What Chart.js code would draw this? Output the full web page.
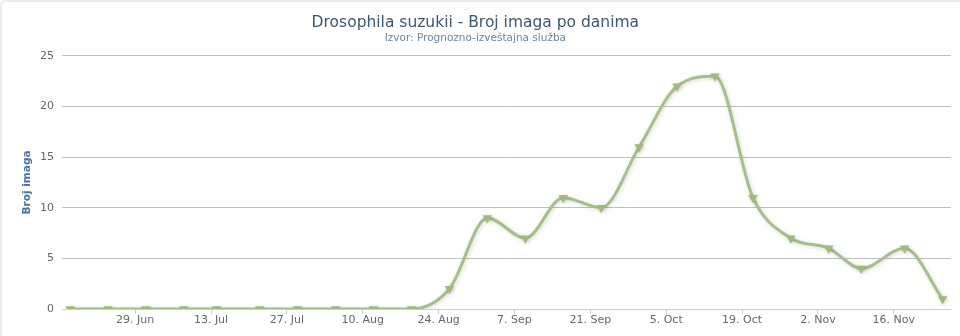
<!DOCTYPE html>
<html>
<head>
<meta charset="utf-8">
<script src="https://cdn.jsdelivr.net/npm/chart.js@4"></script>
<style>
    html, body { margin: 0; padding: 0; background: #fff; }
    #wrap { position: relative; width: 960px; height: 336px; overflow: hidden; }
    #frame {
        position: absolute; left: 0; top: 0; width: 980px; height: 360px;
        border: 2px solid #ececea; border-radius: 6px; box-sizing: border-box;
        pointer-events: none;
    }
</style>
</head>
<body>
<div id="wrap">
    <canvas id="imagoChart"></canvas>
    <div id="frame"></div>
</div>
<script>
// datumi pregleda i broj ulovljenih imaga
const dates = [
    "2015-06-17", "2015-06-24", "2015-07-01", "2015-07-08", "2015-07-14", "2015-07-22",
    "2015-07-29", "2015-08-05", "2015-08-12", "2015-08-19", "2015-08-26", "2015-09-02",
    "2015-09-09", "2015-09-16", "2015-09-23", "2015-09-30", "2015-10-07", "2015-10-14",
    "2015-10-21", "2015-10-28", "2015-11-04", "2015-11-10", "2015-11-18", "2015-11-25"
];
const counts = [0, 0, 0, 0, 0, 0, 0, 0, 0, 0, 2, 9, 7, 11, 10, 16, 22, 23, 11, 7, 6, 4, 6, 1];

// oznake na x osi (svake dvije sedmice)
const tickDates = [
    "2015-06-29", "2015-07-13", "2015-07-27", "2015-08-10", "2015-08-24", "2015-09-07",
    "2015-09-21", "2015-10-05", "2015-10-19", "2015-11-02", "2015-11-16"
];
const months = ["Jan", "Feb", "Mar", "Apr", "May", "Jun", "Jul", "Aug", "Sep", "Oct", "Nov", "Dec"];

const DAY = 864e5;
const toDay = s => Date.parse(s + "T00:00:00Z") / DAY;
const xMin = toDay("2015-06-15") + 0.5;
const xMax = toDay("2015-11-26") + 0.5;

const green = "#a6bf88";
const markerGreen = "#9fb97f";

const lineShadow = {
    id: "lineShadow",
    beforeDatasetDraw(chart) {
        const c = chart.ctx;
        c.save();
        c.shadowColor = "rgba(0,0,0,0.16)";
        c.shadowBlur = 4;
        c.shadowOffsetX = 1;
        c.shadowOffsetY = 1;
    },
    afterDatasetDraw(chart) {
        chart.ctx.restore();
    }
};

document.addEventListener("DOMContentLoaded", function () {
    const ctx = document.getElementById("imagoChart").getContext("2d");

    new Chart(ctx, {
        type: "line",
        data: {
            datasets: [{
                label: "Broj imaga",
                data: dates.map((d, i) => ({ x: toDay(d), y: counts[i] })),
                borderColor: green,
                backgroundColor: green,
                borderWidth: 3,
                cubicInterpolationMode: "monotone",
                pointStyle: "triangle",
                pointRotation: 180,
                pointRadius: 5.5,
                pointBorderWidth: 0,
                pointBackgroundColor: markerGreen,
                fill: false,
            }],
        },
        plugins: [lineShadow],
        options: {
            responsive: true,
            maintainAspectRatio: false,
            animation: false,
            layout: { padding: { left: 0, right: 9.3, top: 0, bottom: 8.8 } },
            plugins: {
                legend: { display: false },
                tooltip: { enabled: false },
                title: {
                    display: true,
                    text: "Drosophila suzukii - Broj imaga po danima",
                    color: "#3e576f",
                    font: { family: "DejaVu Sans", size: 15.5, weight: "normal" },
                    padding: { top: 13.7, bottom: 0 },
                },
                subtitle: {
                    display: true,
                    text: "Izvor: Prognozno-izveštajna služba",
                    color: "#6d869f",
                    font: { family: "DejaVu Sans", size: 10.5 },
                    padding: { top: 0, bottom: 11 },
                },
            },
            scales: {
                x: {
                    type: "linear",
                    min: xMin,
                    max: xMax,
                    afterBuildTicks(scale) {
                        scale.ticks = tickDates.map(d => ({ value: toDay(d) }));
                    },
                    grid: {
                        drawOnChartArea: false,
                        drawTicks: true,
                        tickLength: 5,
                        color: "#c0d0e0",
                    },
                    border: { color: "#c0d0e0", width: 1 },
                    ticks: {
                        autoSkip: false,
                        maxRotation: 0,
                        padding: 0,
                        color: "#666",
                        font: { family: "DejaVu Sans", size: 11 },
                        callback(value) {
                            const d = new Date(value * DAY);
                            return d.getUTCDate() + ". " + months[d.getUTCMonth()];
                        },
                    },
                },
                y: {
                    min: 0,
                    max: 25,
                    afterFit(scale) { scale.width = 62; },
                    grid: { color: "#c0c0c0", drawTicks: false },
                    border: { display: false },
                    ticks: {
                        stepSize: 5,
                        padding: 8,
                        color: "#666",
                        font: { family: "DejaVu Sans", size: 11 },
                    },
                    title: {
                        display: true,
                        text: "Broj imaga",
                        color: "#4d759e",
                        font: { family: "DejaVu Sans", size: 10.5, weight: "bold" },
                        padding: { top: 20.7, bottom: 0 },
                    },
                },
            },
        },
    });
});
</script>
</body>
</html>
